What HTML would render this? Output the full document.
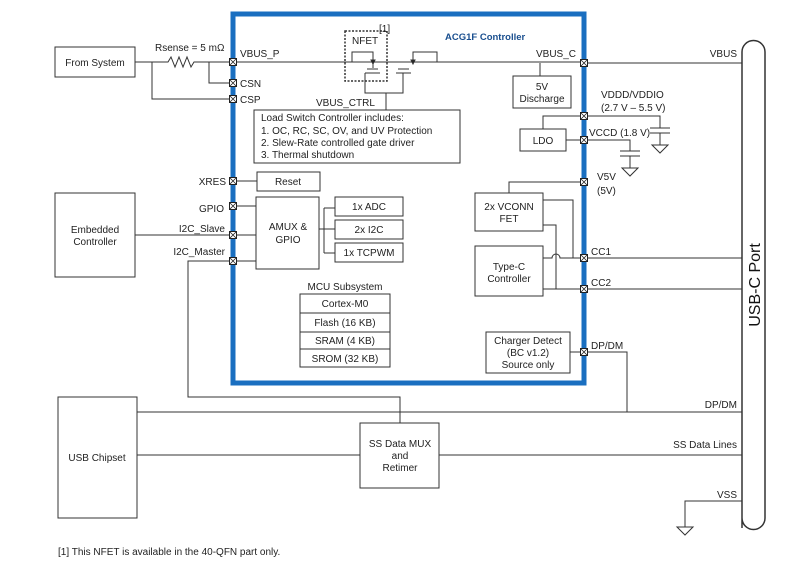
<!DOCTYPE html>
<html><head><style>
body{margin:0;background:#fff;}
svg text{font-family:"Liberation Sans",sans-serif;font-size:10px;fill:#222;}
</style></head><body>
<svg width="800" height="574" viewBox="0 0 800 574" xmlns="http://www.w3.org/2000/svg">
<defs>
<g id="pin"><rect x="-3.5" y="-3.5" width="7" height="7" fill="#fff" stroke="#222" stroke-width="1"/><path d="M-3 -3L3 3M3 -3L-3 3" stroke="#222" stroke-width="0.8"/></g>
</defs>
<g fill="none" stroke="#333" stroke-width="1">
<!-- blue box -->
<rect x="233" y="14" width="351" height="369" stroke="#1a6fc0" stroke-width="5"/>
<!-- From System -->
<rect x="55" y="47" width="80" height="30"/>
<path d="M135 62H168l3 -5l4 10l4 -10l4 10l4 -10l4 10l3 -5H233"/>
<path d="M152 62V99H233"/>
<path d="M209 62V83H233"/>
<!-- VBUS main line -->
<path d="M233 62H584"/>
<!-- NFET -->
<rect x="345" y="31" width="42" height="50" stroke-dasharray="2,1.5" stroke-width="1.5"/>
<path d="M352 62V52H373V68M365 73H380M367 69H378M365 73V93H403V73M396 73H411M398 69H409M413 62V52H437V62M386 93V110"/>
<path d="M373 64l-2 -4h4z M413 64l-2 -4h4z" fill="#222"/>
<!-- Load switch -->
<rect x="254" y="110" width="206" height="53"/>
<rect x="257" y="172" width="63" height="19"/>
<path d="M233 181H257"/>
<rect x="256" y="197" width="63" height="72"/>
<path d="M233 206H256M135 235H256M233 261H256"/>
<rect x="335" y="197" width="68" height="19"/>
<rect x="335" y="220" width="68" height="19"/>
<rect x="335" y="243" width="68" height="19"/>
<path d="M319 229H324M324 208V253M324 208H335M324 229H335M324 253H335"/>
<rect x="55" y="193" width="80" height="84"/>
<!-- MCU -->
<rect x="300" y="294" width="90" height="19"/>
<rect x="300" y="313" width="90" height="19"/>
<rect x="300" y="332" width="90" height="17"/>
<rect x="300" y="349" width="90" height="18"/>
<!-- right side -->
<path d="M584 63H742"/>
<rect x="513" y="76" width="58" height="32"/>
<path d="M540 63V76"/>
<path d="M543 129V116H660V128M650 128H670M650 133H670M660 133V145M652 145H668L660 153Z"/>
<rect x="520" y="129" width="46" height="22"/>
<path d="M566 140H630V151M620 151H640M620 156H640M630 156V168M622 168H638L630 176Z"/>
<path d="M509 193V182H584"/>
<rect x="475" y="193" width="68" height="38"/>
<path d="M543 200H573V258M543 225H556V289"/>
<rect x="475" y="246" width="68" height="50"/>
<path d="M543 258H552a4 4 0 0 1 8 0H742M543 289H742"/>
<rect x="486" y="332" width="84" height="41"/>
<path d="M570 352H627V412"/>
<path d="M137 412H742M137 455H360M439 455H742"/>
<rect x="58" y="397" width="79" height="121"/>
<rect x="360" y="423" width="79" height="65"/>
<path d="M233 261H188V397H400V423"/>
<path d="M742 501H685V527M677 527H693L685 535Z"/>
<!-- port -->
<path d="M742 528V52a11.5 11.5 0 0 1 23 0V518a11.5 11.5 0 0 1 -23 0Z" stroke-width="1.5"/>
</g>
<g>
<use href="#pin" x="233" y="62"/><use href="#pin" x="233" y="83"/><use href="#pin" x="233" y="99"/>
<use href="#pin" x="233" y="181"/><use href="#pin" x="233" y="206"/><use href="#pin" x="233" y="235"/><use href="#pin" x="233" y="261"/>
<use href="#pin" x="584" y="63"/><use href="#pin" x="584" y="116"/><use href="#pin" x="584" y="140"/><use href="#pin" x="584" y="182"/>
<use href="#pin" x="584" y="258"/><use href="#pin" x="584" y="289"/><use href="#pin" x="584" y="352"/>
</g>
<text x="95" y="66" text-anchor="middle">From System</text>
<text x="155" y="51">Rsense = 5 mΩ</text>
<text x="240" y="57">VBUS_P</text>
<text x="240" y="87">CSN</text>
<text x="240" y="103">CSP</text>
<text x="352" y="44">NFET</text>
<text x="379" y="32" font-size="7">[1]</text>
<text x="445" y="40" style="fill:#1a4f8f;font-weight:bold;font-size:9.5px">ACG1F Controller</text>
<text x="316" y="106">VBUS_CTRL</text>
<text x="261" y="121" font-size="9.5">Load Switch Controller includes:</text>
<text x="261" y="134" font-size="9.5">1. OC, RC, SC, OV, and UV Protection</text>
<text x="261" y="146" font-size="9.5">2. Slew-Rate controlled gate driver</text>
<text x="261" y="158" font-size="9.5">3. Thermal shutdown</text>
<text x="226" y="185" text-anchor="end">XRES</text>
<text x="288" y="185" text-anchor="middle">Reset</text>
<text x="224" y="212" text-anchor="end">GPIO</text>
<text x="225" y="232" text-anchor="end">I2C_Slave</text>
<text x="225" y="255" text-anchor="end">I2C_Master</text>
<text x="288" y="230" text-anchor="middle">AMUX &amp;</text>
<text x="288" y="243" text-anchor="middle">GPIO</text>
<text x="369" y="210" text-anchor="middle">1x ADC</text>
<text x="369" y="233" text-anchor="middle">2x I2C</text>
<text x="369" y="256" text-anchor="middle">1x TCPWM</text>
<text x="95" y="233" text-anchor="middle">Embedded</text>
<text x="95" y="245" text-anchor="middle">Controller</text>
<text x="345" y="290" text-anchor="middle" font-size="9.5">MCU Subsystem</text>
<text x="345" y="307" text-anchor="middle" font-size="9.5">Cortex-M0</text>
<text x="345" y="326" text-anchor="middle" font-size="9.5">Flash (16 KB)</text>
<text x="345" y="344" text-anchor="middle" font-size="9.5">SRAM (4 KB)</text>
<text x="345" y="362" text-anchor="middle" font-size="9.5">SROM (32 KB)</text>
<text x="576" y="57" text-anchor="end">VBUS_C</text>
<text x="737" y="57" text-anchor="end">VBUS</text>
<text x="542" y="90" text-anchor="middle">5V</text>
<text x="542" y="102" text-anchor="middle">Discharge</text>
<text x="601" y="98" font-size="9.5">VDDD/VDDIO</text>
<text x="601" y="111" font-size="9.5">(2.7 V – 5.5 V)</text>
<text x="543" y="144" text-anchor="middle">LDO</text>
<text x="589" y="136" font-size="9.5">VCCD (1.8 V)</text>
<text x="597" y="180">V5V</text>
<text x="597" y="194">(5V)</text>
<text x="509" y="210" text-anchor="middle">2x VCONN</text>
<text x="509" y="222" text-anchor="middle">FET</text>
<text x="509" y="270" text-anchor="middle">Type-C</text>
<text x="509" y="282" text-anchor="middle">Controller</text>
<text x="591" y="255">CC1</text>
<text x="591" y="286">CC2</text>
<text x="528" y="344" text-anchor="middle" font-size="9.5">Charger Detect</text>
<text x="528" y="356" text-anchor="middle" font-size="9.5">(BC v1.2)</text>
<text x="528" y="368" text-anchor="middle" font-size="9.5">Source only</text>
<text x="591" y="349">DP/DM</text>
<text x="737" y="408" text-anchor="end">DP/DM</text>
<text x="737" y="448" text-anchor="end">SS Data Lines</text>
<text x="737" y="498" text-anchor="end">VSS</text>
<text x="97" y="461" text-anchor="middle">USB Chipset</text>
<text x="400" y="447" text-anchor="middle">SS Data MUX</text>
<text x="400" y="459" text-anchor="middle">and</text>
<text x="400" y="471" text-anchor="middle">Retimer</text>
<text x="58" y="555" font-size="9">[1] This NFET is available in the 40-QFN part only.</text>
<text transform="translate(760,285) rotate(-90)" text-anchor="middle" style="font-size:16px;fill:#111">USB-C Port</text>
</svg>
</body></html>
